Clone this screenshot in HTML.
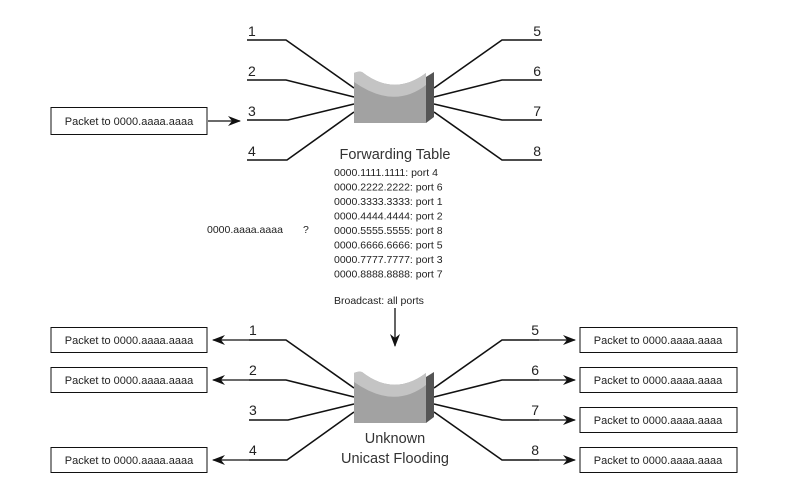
<!DOCTYPE html>
<html><head><style>
html,body{margin:0;padding:0;background:#fff;}
svg{display:block;font-family:"Liberation Sans",Arial,sans-serif;}
</style></head><body>
<svg width="801" height="493" viewBox="0 0 801 493" xmlns="http://www.w3.org/2000/svg">
<defs>
<marker id="ah" markerWidth="13" markerHeight="10" refX="12" refY="5" orient="auto" markerUnits="userSpaceOnUse">
<path d="M0,0 L13,5 L0,10 L4,5 Z" fill="#111"/>
</marker>
<g id="sw">
<path d="M0,1 Q4,-1 8,0 Q40,25 72,1 L72,51 L0,51 Z" fill="#a2a2a2"/>
<path d="M0,1 Q4,-1 8,0 Q40,25 72,1 L72,13 Q40,38 0,10 Z" fill="#c4c4c4"/>
<path d="M72,5 L80,0 L80,45 L72,51 Z" fill="#555"/>
</g>
</defs>
<g stroke="#111" stroke-width="1.6" fill="none">
<polyline points="247,40 286,40 354,88"/>
<polyline points="247,80 286,80 354,97"/>
<polyline points="247,120 288,120 354,104"/>
<polyline points="247,160 287,160 354,112"/>
<polyline points="542,40 502,40 434,88"/>
<polyline points="542,80 502,80 434,97"/>
<polyline points="542,120 502,120 434,104"/>
<polyline points="542,160 502,160 434,112"/>
<polyline points="249,340 286,340 354,388"/>
<polyline points="249,380 286,380 354,397"/>
<polyline points="249,420 288,420 354,404"/>
<polyline points="249,460 287,460 354,412"/>
<polyline points="539,340 502,340 434,388"/>
<polyline points="539,380 502,380 434,397"/>
<polyline points="539,420 502,420 434,404"/>
<polyline points="539,460 502,460 434,412"/>
</g>
<use href="#sw" x="354" y="72"/>
<use href="#sw" x="354" y="372"/>
<g stroke="#111" stroke-width="1.3" fill="none">
<line x1="208" y1="121" x2="240" y2="121" marker-end="url(#ah)"/>
<line x1="395" y1="308" x2="395" y2="346" marker-end="url(#ah)"/>
<line x1="249" y1="340" x2="213" y2="340" marker-end="url(#ah)"/>
<line x1="249" y1="380" x2="213" y2="380" marker-end="url(#ah)"/>
<line x1="249" y1="460" x2="213" y2="460" marker-end="url(#ah)"/>
<line x1="539" y1="340" x2="575" y2="340" marker-end="url(#ah)"/>
<line x1="539" y1="380" x2="575" y2="380" marker-end="url(#ah)"/>
<line x1="539" y1="420" x2="575" y2="420" marker-end="url(#ah)"/>
<line x1="539" y1="460" x2="575" y2="460" marker-end="url(#ah)"/>
</g>
<g stroke="#111" stroke-width="1" fill="#fff">
<rect x="51" y="107.5" width="156" height="27"/>
<rect x="51" y="327.5" width="156" height="25"/>
<rect x="51" y="367.5" width="156" height="25"/>
<rect x="51" y="447.5" width="156" height="25"/>
<rect x="580" y="327.5" width="157" height="25"/>
<rect x="580" y="367.5" width="157" height="25"/>
<rect x="580" y="407.5" width="157" height="25"/>
<rect x="580" y="447.5" width="157" height="25"/>
</g>
<g font-size="11" fill="#222" text-anchor="middle">
<text x="129" y="125">Packet to 0000.aaaa.aaaa</text>
<text x="129" y="344">Packet to 0000.aaaa.aaaa</text>
<text x="129" y="384">Packet to 0000.aaaa.aaaa</text>
<text x="129" y="464">Packet to 0000.aaaa.aaaa</text>
<text x="658" y="344">Packet to 0000.aaaa.aaaa</text>
<text x="658" y="384">Packet to 0000.aaaa.aaaa</text>
<text x="658" y="424">Packet to 0000.aaaa.aaaa</text>
<text x="658" y="464">Packet to 0000.aaaa.aaaa</text>
</g>
<g font-size="14" fill="#222">
<text x="248" y="36">1</text><text x="248" y="76">2</text><text x="248" y="116">3</text><text x="248" y="156">4</text>
<text x="541" y="36" text-anchor="end">5</text><text x="541" y="76" text-anchor="end">6</text><text x="541" y="116" text-anchor="end">7</text><text x="541" y="156" text-anchor="end">8</text>
<text x="249" y="335">1</text><text x="249" y="375">2</text><text x="249" y="415">3</text><text x="249" y="455">4</text>
<text x="539" y="335" text-anchor="end">5</text><text x="539" y="375" text-anchor="end">6</text><text x="539" y="415" text-anchor="end">7</text><text x="539" y="455" text-anchor="end">8</text>
</g>
<g fill="#333" text-anchor="middle" font-size="14.5">
<text x="395" y="159">Forwarding Table</text>
<text x="395" y="443">Unknown</text>
<text x="395" y="463">Unicast Flooding</text>
</g>
<g fill="#222" font-size="10.5">
<text x="334" y="176">0000.1111.1111: port 4</text>
<text x="334" y="190.5">0000.2222.2222: port 6</text>
<text x="334" y="205">0000.3333.3333: port 1</text>
<text x="334" y="219.5">0000.4444.4444: port 2</text>
<text x="334" y="234">0000.5555.5555: port 8</text>
<text x="334" y="248.5">0000.6666.6666: port 5</text>
<text x="334" y="263">0000.7777.7777: port 3</text>
<text x="334" y="277.5">0000.8888.8888: port 7</text>
<text x="334" y="304">Broadcast: all ports</text>
<text x="207" y="233">0000.aaaa.aaaa</text>
<text x="303" y="233">?</text>
</g>
</svg>
</body></html>
